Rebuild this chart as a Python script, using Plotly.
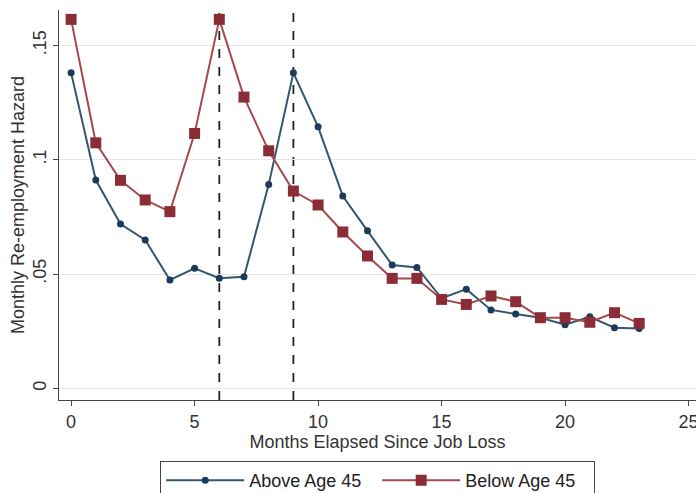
import plotly.graph_objects as go

months = list(range(24))
above_45 = [0.138, 0.0911, 0.0719, 0.0649, 0.0474, 0.0525, 0.0482, 0.0488,
            0.0892, 0.138, 0.1144, 0.0841, 0.0689, 0.0539, 0.0529, 0.0394,
            0.0434, 0.0343, 0.0325, 0.0309, 0.0278, 0.0313, 0.0265, 0.0262]
below_45 = [0.1614, 0.1074, 0.091, 0.0824, 0.0773, 0.1115, 0.1614, 0.1274,
            0.1039, 0.0863, 0.0802, 0.0684, 0.0579, 0.0481, 0.0481, 0.0389,
            0.0367, 0.0404, 0.0379, 0.0309, 0.0309, 0.0289, 0.0331, 0.0284]
cutoffs = [6, 9]
y_tickvals = [0, 0.05, 0.1, 0.15]
y_ticktext = ["0", ".05", ".1", ".15"]
x_tickvals = [0, 5, 10, 15, 20, 25]

FONT = "Liberation Sans, Arial, sans-serif"

fig = go.Figure()
fig.add_trace(go.Scatter(
    x=months, y=above_45, mode="lines+markers", name="Above Age 45",
    line=dict(color="#34566f", width=2),
    marker=dict(symbol="circle", size=7, color="#1c3b58"),
))
fig.add_trace(go.Scatter(
    x=months, y=below_45, mode="lines+markers", name="Below Age 45",
    line=dict(color="#a24a50", width=2),
    marker=dict(symbol="square", size=11, color="#8a2d37"),
))

for c in cutoffs:
    fig.add_shape(type="line", xref="x", yref="paper", x0=c, x1=c, y0=0, y1=1,
                  line=dict(color="#222222", width=1.8, dash="dash"), layer="below")

fig.update_layout(
    width=696, height=503,
    margin=dict(l=59, r=0, t=10, b=103),
    paper_bgcolor="white", plot_bgcolor="white",
    font=dict(family=FONT, size=18, color="#333333"),
    showlegend=True,
    legend=dict(
        orientation="h", x=0.5, xanchor="center", y=-0.156, yanchor="top",
        bordercolor="#444444", borderwidth=1.2, bgcolor="white",
        font=dict(size=18, color="#222222"), itemwidth=78,
        entrywidth=123,
    ),
)
fig.update_xaxes(
    range=[-0.49, 25.3], tickvals=x_tickvals, ticks="outside", ticklen=5,
    tickcolor="#444444", showline=True, linecolor="#444444", linewidth=1.3,
    showgrid=False, zeroline=False, ticklabeloverflow="allow", automargin=False,
    tickfont=dict(size=18, color="#333333"),
    title=dict(text="Months Elapsed Since Job Loss", font=dict(size=18, color="#333333"), standoff=2),
)
fig.update_yaxes(
    range=[-0.0051, 0.1655], tickvals=y_tickvals, ticktext=y_ticktext,
    tickangle=-90, ticks="outside", ticklen=5, tickcolor="#444444",
    showline=True, linecolor="#444444", linewidth=1.3, automargin=False,
    showgrid=True, gridcolor="#e6e6e6", gridwidth=1.2, zeroline=False,
    tickfont=dict(size=18, color="#333333"),
    title=dict(text="Monthly Re-employment Hazard", font=dict(size=18, color="#333333"), standoff=0),
)

fig.write_html(
    "out.html",
    config={"displayModeBar": False},
    post_script="document.body.style.margin='0';document.body.style.overflow='hidden';",
)
